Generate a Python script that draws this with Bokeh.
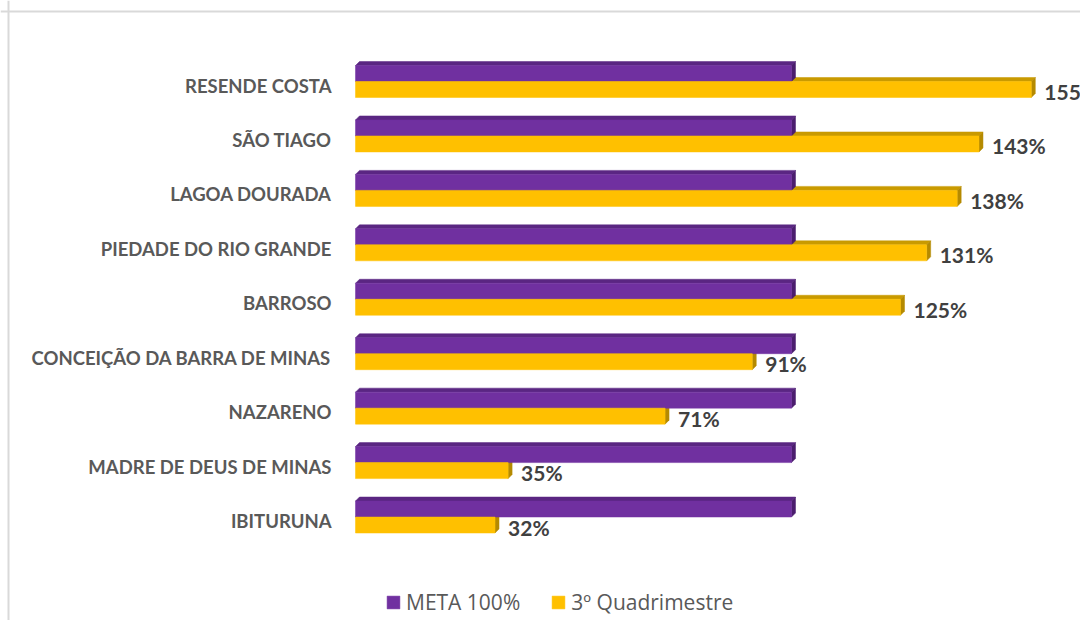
from bokeh.plotting import figure
from bokeh.models import Range1d, Span, Legend, LegendItem, ColumnDataSource
from bokeh.embed import file_html
from bokeh.resources import INLINE
from bokeh.core.properties import value

# ---- data ----
categories = ["RESENDE COSTA", "SÃO TIAGO", "LAGOA DOURADA", "PIEDADE DO RIO GRANDE",
              "BARROSO", "CONCEIÇÃO DA BARRA DE MINAS", "NAZARENO",
              "MADRE DE DEUS DE MINAS", "IBITURUNA"]
meta = [100, 100, 100, 100, 100, 100, 100, 100, 100]
quad3 = [155, 143, 138, 131, 125, 91, 71, 35, 32]
value_labels = ["155%", "143%", "138%", "131%", "125%", "91%", "71%", "35%", "32%"]
series_names = ["META 100%", "3º Quadrimestre"]

# ---- styling / geometry ----
W, H = 1080, 620
PX_X = 4.36          # px per percent
PX_Y = 54.44         # px per category
X0_PX = 355          # frame px of 0%
Y_TOP_PX = 81        # frame px of first category center
x_start = -X0_PX / PX_X
x_end = x_start + W / PX_X
y_end = (len(categories) - 1) + Y_TOP_PX / PX_Y
y_start = y_end - H / PX_Y

hb = 16 / PX_Y       # bar thickness
dx = 4 / PX_X        # 3D depth
dy = 4 / PX_Y

PURPLE, PURPLE_TOP, PURPLE_SIDE = "#7030A0", "#5A2682", "#4B1D6E"
GOLD, GOLD_TOP, GOLD_SIDE = "#FFC000", "#C99A00", "#B58A00"

n = len(categories)
cy = [n - 1 - i for i in range(n)]

p = figure(width=W, height=H, output_backend="svg", toolbar_location=None,
           x_range=Range1d(x_start, x_end), y_range=Range1d(y_start, y_end),
           min_border=0, min_border_left=0, min_border_right=0,
           min_border_top=0, min_border_bottom=0)
p.xaxis.visible = False
p.yaxis.visible = False
p.grid.visible = False
p.outline_line_color = None
p.background_fill_color = "white"

def top_face(v, base):
    return ([0, v, v + dx, dx], [base, base, base + dy, base + dy])

def side_face(v, lo, hi):
    return ([v, v + dx, v + dx, v], [lo, lo + dy, hi + dy, hi])

# gold hidden faces (drawn first)
gt = [top_face(v, c) for v, c in zip(quad3, cy)]
gs = [side_face(v, c - hb, c) for v, c in zip(quad3, cy)]
p.patches(xs=[a for a, b in gt], ys=[b for a, b in gt], fill_color=GOLD_TOP, line_color=GOLD_TOP, line_width=0.5)
p.patches(xs=[a for a, b in gs], ys=[b for a, b in gs], fill_color=GOLD_SIDE, line_color=GOLD_SIDE, line_width=0.5)

# purple faces
pt = [top_face(v, c + hb) for v, c in zip(meta, cy)]
ps = [side_face(v, c, c + hb) for v, c in zip(meta, cy)]
p.patches(xs=[a for a, b in pt], ys=[b for a, b in pt], fill_color=PURPLE_TOP, line_color=PURPLE_TOP, line_width=0.5)
p.patches(xs=[a for a, b in ps], ys=[b for a, b in ps], fill_color=PURPLE_SIDE, line_color=PURPLE_SIDE, line_width=0.5)

src_m = ColumnDataSource(dict(left=[0] * n, right=meta, bottom=cy, top=[c + hb for c in cy]))
src_q = ColumnDataSource(dict(left=[0] * n, right=quad3, bottom=[c - hb for c in cy], top=cy))
r_meta = p.quad(left="left", right="right", bottom="bottom", top="top", source=src_m,
                fill_color=PURPLE, line_color=PURPLE, line_width=0.5)
r_q = p.quad(left="left", right="right", bottom="bottom", top="top", source=src_q,
             fill_color=GOLD, line_color=GOLD, line_width=0.5)

# category labels
p.text(x=[0] * n, y=cy, text=categories, x_offset=-24, y_offset=4,
       text_align="right", text_baseline="middle", text_font=value("Lato"),
       text_font_style="bold", text_font_size="18.5px", text_color="#595959")

# value labels
p.text(x=quad3, y=[c - hb / 2 for c in cy], text=value_labels, x_offset=13, y_offset=2,
       text_align="left", text_baseline="middle", text_font=value("Lato"),
       text_font_style="bold", text_font_size="21px", text_color="#404040")

# chart border (left and top visible)
p.add_layout(Span(location=x_start + 8 / PX_X, dimension="height", line_color="#D9D9D9", line_width=2))
p.add_layout(Span(location=y_end - 11 / PX_Y, dimension="width", line_color="#D9D9D9", line_width=2))

legend = Legend(items=[LegendItem(label=series_names[0], renderers=[r_meta]),
                       LegendItem(label=series_names[1], renderers=[r_q])],
                orientation="horizontal", location=(385, 4),
                glyph_width=16, glyph_height=16, label_standoff=5, spacing=30,
                padding=0, margin=0, border_line_color=None, background_fill_alpha=0,
                label_text_font="Open Sans", label_text_font_size="21px",
                label_text_color="#595959")
p.add_layout(legend, "center")

open("out.html", "w").write(file_html(p, INLINE))
